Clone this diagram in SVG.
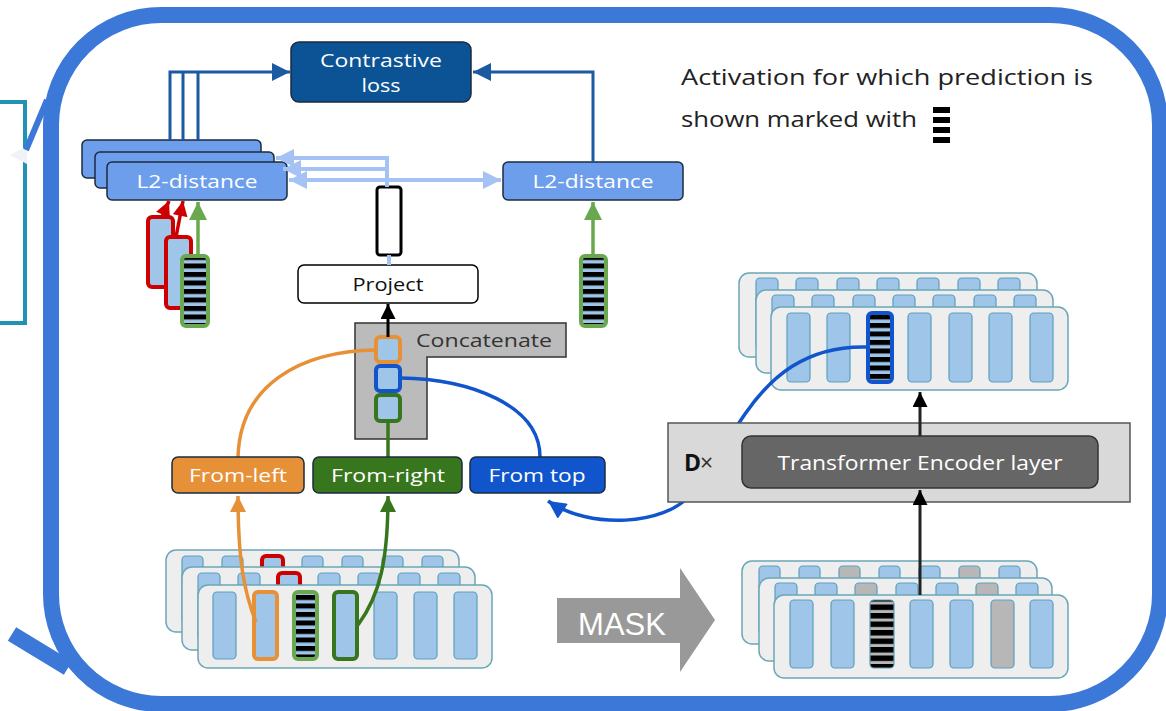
<svg xmlns="http://www.w3.org/2000/svg" width="1166" height="711" viewBox="0 0 1166 711">
<defs>
<style>
.t{font-family:"Open Sans","Liberation Sans",sans-serif}
.w{fill:#fff}
.l2{fill:#6d9eeb;stroke:#1c2b3f;stroke-width:1.5}
.sr{fill:#eeeeee;stroke:#6aa7b8;stroke-width:1.5}
.col{fill:#9fc5e8;stroke:#5c9fbf;stroke-width:1.2}
.gcol{fill:#b7b7b7;stroke:#5c9fbf;stroke-width:1.2}
.lb{stroke:#1c2b3f;stroke-width:1.5}
</style>
<pattern id="stB" width="10" height="8.5" patternUnits="userSpaceOnUse"><rect width="10" height="8.5" fill="#9fc5e8"/><rect width="10" height="5" fill="#000"/></pattern>
<pattern id="stG" width="10" height="8.5" patternUnits="userSpaceOnUse" y="1"><rect width="10" height="8.5" fill="#b7b7b7"/><rect width="10" height="5.5" fill="#000"/></pattern>
<marker id="mDB" viewBox="0 0 10 10" refX="10" refY="5" markerWidth="22" markerHeight="18" markerUnits="userSpaceOnUse" orient="auto"><path d="M0,0L10,5L0,10z" fill="#1b5aa0"/></marker>
<marker id="mLB" viewBox="0 0 10 10" refX="10" refY="5" markerWidth="22" markerHeight="18" markerUnits="userSpaceOnUse" orient="auto"><path d="M0,0L10,5L0,10z" fill="#a4c2f4"/></marker>
<marker id="mBK" viewBox="0 0 10 10" refX="10" refY="5" markerWidth="17" markerHeight="15" markerUnits="userSpaceOnUse" orient="auto"><path d="M0,0L10,5L0,10z" fill="#000"/></marker>
<marker id="mGL" viewBox="0 0 10 10" refX="10" refY="5" markerWidth="24" markerHeight="18" markerUnits="userSpaceOnUse" orient="auto"><path d="M0,0L10,5L0,10z" fill="#6aa84f"/></marker>
<marker id="mGD" viewBox="0 0 10 10" refX="10" refY="5" markerWidth="20" markerHeight="16" markerUnits="userSpaceOnUse" orient="auto"><path d="M0,0L10,5L0,10z" fill="#38761d"/></marker>
<marker id="mOR" viewBox="0 0 10 10" refX="10" refY="5" markerWidth="20" markerHeight="16" markerUnits="userSpaceOnUse" orient="auto"><path d="M0,0L10,5L0,10z" fill="#e69138"/></marker>
<marker id="mBL" viewBox="0 0 10 10" refX="10" refY="5" markerWidth="22" markerHeight="18" markerUnits="userSpaceOnUse" orient="auto"><path d="M0,0L10,5L0,10z" fill="#1155cc"/></marker>
<marker id="mRD" viewBox="0 0 10 10" refX="10" refY="5" markerWidth="16" markerHeight="15" markerUnits="userSpaceOnUse" orient="auto"><path d="M0,0L10,5L0,10z" fill="#cc0000"/></marker>
</defs>
<rect width="1166" height="711" fill="#fff"/>

<g id="frame">
<rect x="-10" y="102" width="35" height="221" fill="none" stroke="#2192b4" stroke-width="4"/>
<polygon points="10,155 27,146 27,164" fill="#eef2f9"/>
<line x1="26" y1="150" x2="47" y2="100" stroke="#3c78d8" stroke-width="6"/>
<line x1="12" y1="634" x2="68" y2="668" stroke="#3c78d8" stroke-width="16"/>
<rect x="51" y="15" width="1109" height="689" rx="110" fill="none" stroke="#3c78d8" stroke-width="16"/>
</g>

<g id="legend">
<text class="t" x="681" y="85" font-size="22" fill="#222" textLength="412" lengthAdjust="spacingAndGlyphs">Activation for which prediction is</text>
<text class="t" x="681" y="127" font-size="22" fill="#222" textLength="236" lengthAdjust="spacingAndGlyphs">shown marked with</text>
<rect x="933" y="107" width="17" height="6" fill="#000"/>
<rect x="933" y="117" width="17" height="6" fill="#000"/>
<rect x="933" y="127" width="17" height="6" fill="#000"/>
<rect x="933" y="137" width="17" height="6" fill="#000"/>
</g>

<g id="contrastive-loss">
<rect x="291" y="42" width="180" height="60" rx="8" fill="#0b5394" stroke="#1c2b3f" stroke-width="1.5"/>
<text class="t w" x="381" y="67" font-size="19" text-anchor="middle" textLength="122" lengthAdjust="spacingAndGlyphs">Contrastive</text>
<text class="t w" x="381" y="92" font-size="19" text-anchor="middle" textLength="39" lengthAdjust="spacingAndGlyphs">loss</text>
</g>

<g id="l2-stack">
<rect class="l2" x="82" y="140" width="179" height="38" rx="5"/>
<rect class="l2" x="95" y="152" width="179" height="36" rx="5"/>
<rect class="l2" x="107" y="162" width="180" height="38" rx="5"/>
<text class="t w" x="197" y="188" font-size="18" text-anchor="middle" textLength="121" lengthAdjust="spacingAndGlyphs">L2-distance</text>
</g>

<g id="l2-right">
<rect class="l2" x="503" y="162" width="180" height="38" rx="5"/>
<text class="t w" x="593" y="188" font-size="18" text-anchor="middle" textLength="121" lengthAdjust="spacingAndGlyphs">L2-distance</text>
</g>

<g id="negatives-positive">
<rect x="148" y="217" width="25" height="70" rx="4" fill="#9fc5e8" stroke="#cc0000" stroke-width="4"/>
<rect x="166" y="237" width="25" height="71" rx="4" fill="#9fc5e8" stroke="#cc0000" stroke-width="4"/>
<rect x="182" y="256" width="26" height="70" rx="4" fill="url(#stB)" stroke="#6aa84f" stroke-width="4"/>
</g>

<g id="target-column">
<rect x="581" y="256" width="25" height="70" rx="4" fill="url(#stB)" stroke="#6aa84f" stroke-width="4"/>
</g>

<g id="proj-output">
<rect x="377" y="187" width="24" height="68" rx="3" fill="#fff" stroke="#000" stroke-width="3"/>
</g>

<g id="project">
<rect x="298" y="265" width="180" height="38" rx="6" fill="#fff" stroke="#000" stroke-width="1.5"/>
<text class="t" x="388" y="291" font-size="18" text-anchor="middle" fill="#111" textLength="71" lengthAdjust="spacingAndGlyphs">Project</text>
</g>

<g id="concatenate">
<polygon points="355,323 566,323 566,357 427,357 427,439 355,439" fill="#bbbbbb" stroke="#333" stroke-width="1.5"/>
<text class="t" x="416" y="347" font-size="18" fill="#333" textLength="136" lengthAdjust="spacingAndGlyphs">Concatenate</text>
<rect x="376" y="337" width="24" height="25" rx="4" fill="#9fc5e8" stroke="#e69138" stroke-width="4"/>
<rect x="376" y="366" width="24" height="25" rx="4" fill="#9fc5e8" stroke="#1155cc" stroke-width="4"/>
<rect x="376" y="395" width="24" height="26" rx="4" fill="#9fc5e8" stroke="#38761d" stroke-width="4"/>
</g>

<g id="bottom-left-stack">
<rect class="sr" x="166" y="550" width="293" height="82" rx="10"/>
<rect class="col" x="182" y="556" width="21" height="68" rx="4"/>
<rect class="col" x="222" y="556" width="21" height="68" rx="4"/>
<rect x="262" y="556" width="21" height="68" rx="4" style="fill:#9fc5e8;stroke:#cc0000;stroke-width:4"/>
<rect class="col" x="302" y="556" width="21" height="68" rx="4"/>
<rect class="col" x="342" y="556" width="21" height="68" rx="4"/>
<rect class="col" x="382" y="556" width="21" height="68" rx="4"/>
<rect class="col" x="422" y="556" width="21" height="68" rx="4"/>
<rect class="sr" x="182" y="567" width="293" height="83" rx="10"/>
<rect class="col" x="198" y="573" width="22" height="68" rx="4"/>
<rect class="col" x="238" y="573" width="22" height="68" rx="4"/>
<rect x="278" y="573" width="22" height="68" rx="4" style="fill:#9fc5e8;stroke:#cc0000;stroke-width:4"/>
<rect class="col" x="318" y="573" width="22" height="68" rx="4"/>
<rect class="col" x="358" y="573" width="22" height="68" rx="4"/>
<rect class="col" x="398" y="573" width="22" height="68" rx="4"/>
<rect class="col" x="438" y="573" width="22" height="68" rx="4"/>
<rect class="sr" x="198" y="585" width="294" height="83" rx="10"/>
<rect class="col" x="213" y="592" width="23" height="67" rx="4"/>
<rect x="254" y="592" width="23" height="67" rx="4" style="fill:#9fc5e8;stroke:#e69138;stroke-width:4"/>
<rect x="294" y="592" width="23" height="67" rx="4" fill="url(#stB)" stroke="#6aa84f" stroke-width="4"/>
<rect x="334" y="592" width="23" height="67" rx="4" style="fill:#9fc5e8;stroke:#38761d;stroke-width:4"/>
<rect class="col" x="374" y="592" width="23" height="67" rx="4"/>
<rect class="col" x="414" y="592" width="23" height="67" rx="4"/>
<rect class="col" x="454" y="592" width="23" height="67" rx="4"/>
</g>

<g id="mask-arrow">
<polygon points="557,598 680,598 680,568 715,620 680,672 680,643 557,643" fill="#999"/>
<text x="622" y="635" font-family="Liberation Sans, Arial, sans-serif" font-size="31" fill="#fff" text-anchor="middle">MASK</text>
</g>

<g id="bottom-right-stack">
<rect class="sr" x="742" y="561" width="295" height="83" rx="10"/>
<rect class="col" x="759" y="566" width="21" height="68" rx="4"/>
<rect class="col" x="799" y="566" width="21" height="68" rx="4"/>
<rect class="gcol" x="839" y="566" width="21" height="68" rx="4"/>
<rect class="col" x="879" y="566" width="21" height="68" rx="4"/>
<rect class="col" x="919" y="566" width="21" height="68" rx="4"/>
<rect class="gcol" x="959" y="566" width="21" height="68" rx="4"/>
<rect class="col" x="999" y="566" width="21" height="68" rx="4"/>
<rect class="sr" x="759" y="578" width="293" height="83" rx="10"/>
<rect class="col" x="775" y="583" width="22" height="68" rx="4"/>
<rect class="col" x="815" y="583" width="22" height="68" rx="4"/>
<rect class="gcol" x="855" y="583" width="22" height="68" rx="4"/>
<rect class="col" x="896" y="583" width="22" height="68" rx="4"/>
<rect class="col" x="936" y="583" width="22" height="68" rx="4"/>
<rect class="gcol" x="976" y="583" width="22" height="68" rx="4"/>
<rect class="col" x="1016" y="583" width="22" height="68" rx="4"/>
<rect class="sr" x="774" y="595" width="294" height="83" rx="10"/>
<rect class="col" x="790" y="600" width="23" height="68" rx="4"/>
<rect class="col" x="831" y="600" width="23" height="68" rx="4"/>
<rect x="870" y="600" width="24" height="68" rx="4" fill="url(#stG)" stroke="#5c9fbf" stroke-width="1.2"/>
<rect class="col" x="910" y="600" width="23" height="68" rx="4"/>
<rect class="col" x="950" y="600" width="23" height="68" rx="4"/>
<rect class="gcol" x="991" y="600" width="23" height="68" rx="4"/>
<rect class="col" x="1030" y="600" width="23" height="68" rx="4"/>
</g>

<g id="top-right-stack">
<rect class="sr" x="739" y="273" width="298" height="84" rx="10"/>
<rect class="col" x="756" y="278" width="22" height="70" rx="4"/>
<rect class="col" x="796" y="278" width="22" height="70" rx="4"/>
<rect class="col" x="837" y="278" width="22" height="70" rx="4"/>
<rect class="col" x="877" y="278" width="22" height="70" rx="4"/>
<rect class="col" x="917" y="278" width="22" height="70" rx="4"/>
<rect class="col" x="958" y="278" width="22" height="70" rx="4"/>
<rect class="col" x="998" y="278" width="22" height="70" rx="4"/>
<rect class="sr" x="756" y="290" width="297" height="83" rx="10"/>
<rect class="col" x="772" y="295" width="22" height="70" rx="4"/>
<rect class="col" x="812" y="295" width="22" height="70" rx="4"/>
<rect class="col" x="853" y="295" width="22" height="70" rx="4"/>
<rect class="col" x="893" y="295" width="22" height="70" rx="4"/>
<rect class="col" x="933" y="295" width="22" height="70" rx="4"/>
<rect class="col" x="974" y="295" width="22" height="70" rx="4"/>
<rect class="col" x="1014" y="295" width="22" height="70" rx="4"/>
<rect class="sr" x="771" y="307" width="297" height="83" rx="10"/>
<rect class="col" x="787" y="313" width="23" height="69" rx="4"/>
<rect class="col" x="827" y="313" width="23" height="69" rx="4"/>
<rect class="col" x="908" y="313" width="23" height="69" rx="4"/>
<rect class="col" x="949" y="313" width="23" height="69" rx="4"/>
<rect class="col" x="989" y="313" width="23" height="69" rx="4"/>
<rect class="col" x="1030" y="313" width="23" height="69" rx="4"/>
</g>

<g id="connectors" fill="none">
<path d="M170,140V72H290" stroke="#1b5aa0" stroke-width="3" marker-end="url(#mDB)"/>
<path d="M183,140V72M198,140V72" stroke="#1b5aa0" stroke-width="3"/>
<path d="M593,162V72H473" stroke="#1b5aa0" stroke-width="3" marker-end="url(#mDB)"/>
<path d="M387,180H501" stroke="#a4c2f4" stroke-width="4" marker-end="url(#mLB)"/>
<path d="M387,180H289" stroke="#a4c2f4" stroke-width="4" marker-end="url(#mLB)"/>
<path d="M387,180V169H283" stroke="#a4c2f4" stroke-width="4" marker-end="url(#mLB)"/>
<path d="M387,169V158H276" stroke="#a4c2f4" stroke-width="4" marker-end="url(#mLB)"/>
<path d="M387,180V187M389,255V265" stroke="#a4c2f4" stroke-width="4"/>
<path d="M162,217L169,201" stroke="#cc0000" stroke-width="3.5" marker-end="url(#mRD)"/>
<path d="M176,237L183,201" stroke="#cc0000" stroke-width="3.5" marker-end="url(#mRD)"/>
<path d="M198,256V202" stroke="#6aa84f" stroke-width="3.5" marker-end="url(#mGL)"/>
<path d="M593,256V202" stroke="#6aa84f" stroke-width="3.5" marker-end="url(#mGL)"/>
<path d="M388,337V304" stroke="#000" stroke-width="3" marker-end="url(#mBK)"/>
<path d="M376,350C300,351 240,385 238,457" stroke="#e69138" stroke-width="3.5"/>
<path d="M400,378C470,379 540,405 540,457" stroke="#1155cc" stroke-width="3.5"/>
<path d="M388,421V457" stroke="#38761d" stroke-width="3.5"/>
<path d="M256,622C244,592 238,560 238,496" stroke="#e69138" stroke-width="3.5" marker-end="url(#mOR)"/>
<path d="M358,625C380,595 388,560 388,496" stroke="#38761d" stroke-width="3.5" marker-end="url(#mGD)"/>
<path d="M868,347C805,345 770,378 745,414L690,495C665,525 590,530 548,501" stroke="#1155cc" stroke-width="3.5" marker-end="url(#mBL)"/>
</g>

<g id="highlight-column">
<rect x="868" y="313" width="24" height="69" rx="4" fill="url(#stB)" stroke="#1155cc" stroke-width="4"/>
</g>

<g id="transformer">
<rect x="668" y="423" width="462" height="79" fill="#d9d9d9" stroke="#555" stroke-width="1.5"/>
<text class="t" x="684" y="471" font-size="23" font-weight="bold" fill="#111">D</text>
<text class="t" x="700" y="471" font-size="23" fill="#333">×</text>
<rect x="742" y="436" width="356" height="52" rx="9" fill="#666" stroke="#333" stroke-width="1.5"/>
<text class="t w" x="920" y="470" font-size="20" text-anchor="middle" textLength="285" lengthAdjust="spacingAndGlyphs">Transformer Encoder layer</text>
</g>

<g id="connectors-encoder" fill="none">
<path d="M920,595V490" stroke="#222" stroke-width="3" marker-end="url(#mBK)"/>
<path d="M920,436V392" stroke="#222" stroke-width="3" marker-end="url(#mBK)"/>
</g>

<g id="from-left">
<rect class="lb" x="172" y="457" width="132" height="36" rx="6" fill="#e69138"/>
<text class="t w" x="238" y="482" font-size="19" text-anchor="middle" textLength="98" lengthAdjust="spacingAndGlyphs">From-left</text>
</g>
<g id="from-right">
<rect class="lb" x="313" y="457" width="149" height="36" rx="6" fill="#38761d"/>
<text class="t w" x="388" y="482" font-size="19" text-anchor="middle" textLength="114" lengthAdjust="spacingAndGlyphs">From-right</text>
</g>
<g id="from-top">
<rect class="lb" x="470" y="457" width="135" height="36" rx="6" fill="#1155cc"/>
<text class="t w" x="537" y="482" font-size="19" text-anchor="middle" textLength="97" lengthAdjust="spacingAndGlyphs">From top</text>
</g>
</svg>
